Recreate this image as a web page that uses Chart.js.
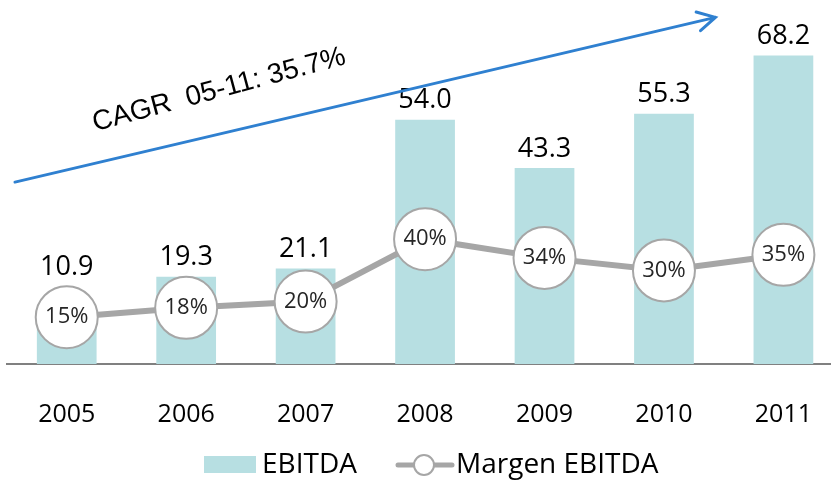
<!DOCTYPE html>
<html>
<head>
<meta charset="utf-8">
<script src="https://cdn.jsdelivr.net/npm/chart.js@4/dist/chart.umd.min.js"></script>
<style>
    html, body { margin: 0; padding: 0; background: #fff; overflow: hidden; }
    #wrap { width: 848px; height: 481px; }
</style>
</head>
<body>
<div id="wrap"><canvas id="chart" width="848" height="481"></canvas></div>
<script>
// EBITDA and margin by year
const years = ['2005', '2006', '2007', '2008', '2009', '2010', '2011'];
const ebitda = [10.9, 19.3, 21.1, 54.0, 43.3, 55.3, 68.2];
const margin = [15, 18, 20, 40, 34, 30, 35];
const cagrText = 'CAGR  05-11: 35.7%';

const BAR_COLOR = '#b7dfe2';
const LINE_COLOR = '#a6a6a6';
const FONT = '"Open Sans", "Noto Sans", sans-serif';

// value labels, circle labels, CAGR arrow and legend
const overlayPlugin = {
    id: 'overlay',
    afterDatasetsDraw(chart) {
        const ctx = chart.ctx;
        const barMeta = chart.getDatasetMeta(1);
        const lineMeta = chart.getDatasetMeta(0);
        ctx.save();

        // labels inside the circles
        ctx.fillStyle = '#262626';
        ctx.font = '22px ' + FONT;
        ctx.textAlign = 'center';
        ctx.textBaseline = 'middle';
        lineMeta.data.forEach((pt, i) => {
            ctx.fillText(margin[i] + '%', pt.x, pt.y);
        });

        // EBITDA values above bars (and above circles when they overlap)
        ctx.fillStyle = '#000';
        ctx.font = '27px ' + FONT;
        barMeta.data.forEach((bar, i) => {
            const circleTop = lineMeta.data[i].y - 31;
            const top = Math.min(bar.y, circleTop);
            ctx.fillText(ebitda[i].toFixed(1), bar.x, top - 19);
        });

        // CAGR arrow
        const x0 = chart.chartArea.left + 8;
        const y0 = chart.scales.y.getPixelForValue(40.2);
        const x1 = barMeta.data[barMeta.data.length - 1].x - 68;
        const y1 = chart.scales.y.getPixelForValue(76.6);
        const ang = Math.atan2(y1 - y0, x1 - x0);
        ctx.strokeStyle = '#2f80d0';
        ctx.lineWidth = 3;
        ctx.lineCap = 'round';
        ctx.beginPath();
        ctx.moveTo(x0, y0);
        ctx.lineTo(x1, y1);
        ctx.moveTo(x1 - 20 * Math.cos(ang - 0.5), y1 - 20 * Math.sin(ang - 0.5));
        ctx.lineTo(x1, y1);
        ctx.lineTo(x1 - 20 * Math.cos(ang + 0.5), y1 - 20 * Math.sin(ang + 0.5));
        ctx.stroke();

        // CAGR text
        ctx.save();
        ctx.translate(219, 90);
        ctx.rotate(-15 * Math.PI / 180);
        ctx.fillStyle = '#000';
        ctx.font = '28px "Liberation Sans", Arial, sans-serif';
        ctx.fillText(cagrText, 0, 0);
        ctx.restore();

        // legend
        const ly = 465;
        ctx.fillStyle = BAR_COLOR;
        ctx.fillRect(204, ly - 9, 52, 17);
        ctx.fillStyle = '#000';
        ctx.font = '28px ' + FONT;
        ctx.textAlign = 'left';
        ctx.fillText(chart.data.datasets[1].label, 262, ly);
        ctx.strokeStyle = LINE_COLOR;
        ctx.lineWidth = 5;
        ctx.beginPath();
        ctx.moveTo(398, ly);
        ctx.lineTo(452, ly);
        ctx.stroke();
        ctx.beginPath();
        ctx.arc(424, ly, 10, 0, Math.PI * 2);
        ctx.fillStyle = '#fff';
        ctx.fill();
        ctx.lineWidth = 2;
        ctx.stroke();
        ctx.fillStyle = '#000';
        ctx.fillText(chart.data.datasets[0].label, 456, ly);

        ctx.restore();
    }
};

new Chart(document.getElementById('chart'), {
    data: {
        labels: years,
        datasets: [
            {
                type: 'line',
                label: 'Margen EBITDA',
                data: margin,
                yAxisID: 'y1',
                borderColor: LINE_COLOR,
                borderWidth: 6,
                tension: 0,
                clip: false,
                pointRadius: 31,
                pointHoverRadius: 31,
                pointBackgroundColor: '#fff',
                pointBorderColor: LINE_COLOR,
                pointBorderWidth: 2,
                order: 0
            },
            {
                type: 'bar',
                label: 'EBITDA',
                data: ebitda,
                yAxisID: 'y',
                backgroundColor: BAR_COLOR,
                categoryPercentage: 0.5,
                barPercentage: 1,
                order: 1
            }
        ]
    },
    options: {
        responsive: false,
        animation: false,
        layout: { autoPadding: false, padding: { top: 2, left: 7, right: 0, bottom: 15 } },
        plugins: { legend: { display: false }, tooltip: { enabled: false } },
        scales: {
            x: {
                grid: { display: false, drawTicks: false },
                border: { display: true, color: '#808080', width: 2 },
                ticks: {
                    color: '#000',
                    padding: 36,
                    font: { family: FONT, size: 25 }
                }
            },
            y: { display: false, min: 0, max: 80 },
            y1: { display: false, min: 0, max: 116 }
        }
    },
    plugins: [overlayPlugin]
});
</script>
</body>
</html>
